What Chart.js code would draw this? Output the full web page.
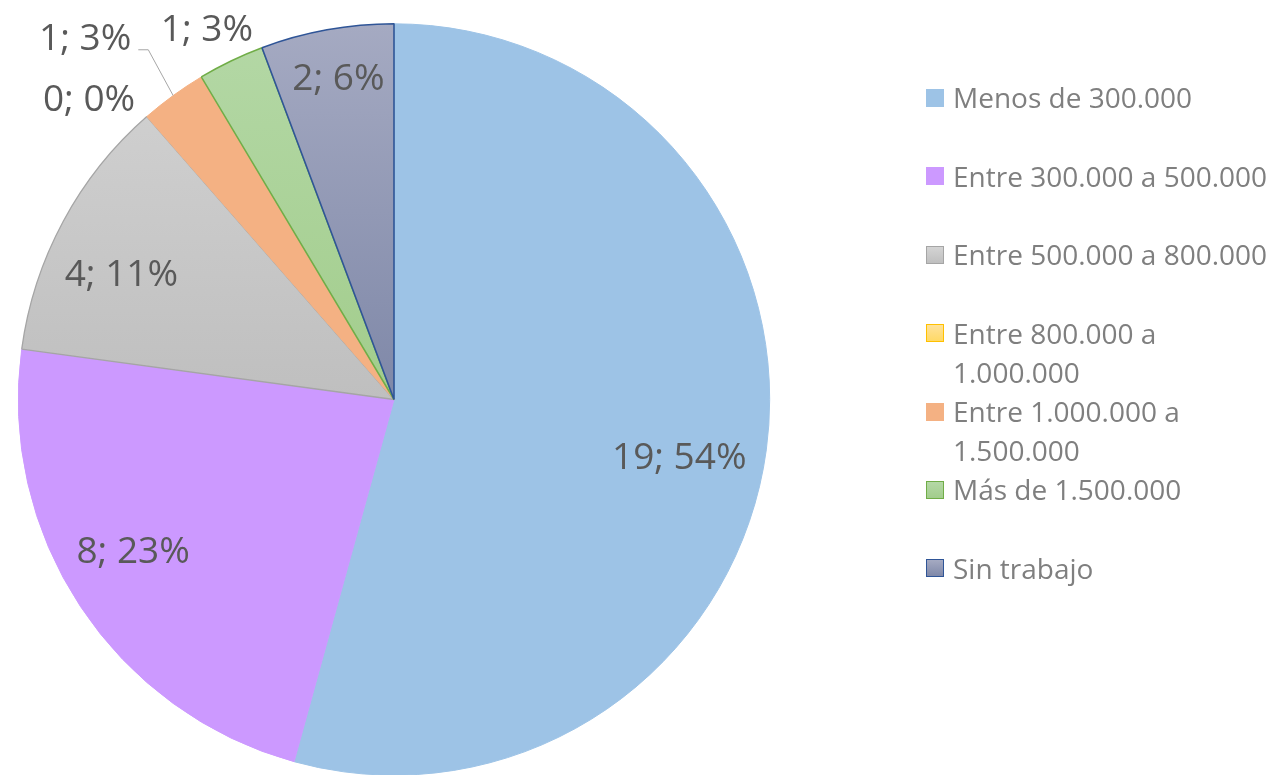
<!DOCTYPE html>
<html>
<head>
<meta charset="utf-8">
<script src="https://cdn.jsdelivr.net/npm/chart.js@4.4.0/dist/chart.umd.min.js"></script>
<style>
  html, body { margin: 0; padding: 0; background: #fff; overflow: hidden; }
  #wrap { position: absolute; left: 0; top: 0; width: 1274px; height: 800px; }
  #legend { position: absolute; left: 926px; top: 78.4px; font-family: 'Open Sans', sans-serif; font-size: 28px; line-height: 39.2px; color: #7f7f7f; white-space: nowrap; }
  .item { position: relative; padding-left: 27px; }
  .item.gap { margin-bottom: 39.2px; }
  .sw { position: absolute; left: 0; top: 10.6px; width: 18px; height: 18px; box-sizing: border-box; border: 1.5px solid; }
</style>
</head>
<body>
<div id="wrap"><canvas id="pie"></canvas></div>
<div id="legend"></div>
<script>
// data
const labels = [
  'Menos de 300.000',
  'Entre 300.000 a 500.000',
  'Entre 500.000 a 800.000',
  ['Entre 800.000 a', '1.000.000'],
  ['Entre 1.000.000 a', '1.500.000'],
  'Más de 1.500.000',
  'Sin trabajo'
];
const counts = [19, 8, 4, 0, 1, 1, 2];

// styles: [top colour, colour at pie centre, border colour, border width]
const sliceStyle = [
  ['#9dc3e6', '#9dc3e6', '#9dc3e6', 1],
  ['#cc99ff', '#cc99ff', '#cc99ff', 1],
  ['#d4d4d4', '#bfbfbf', '#a5a5a5', 1.3],
  ['#ffe29a', '#ffd966', '#ffc000', 0],
  ['#f4b183', '#f4b183', '#f4b183', 1],
  ['#b4d8a6', '#a2cd8c', '#70ad47', 1.5],
  ['#a5aac2', '#7f88a8', '#2f5597', 1.6]
];
// label placement: fraction of radius, angle shift in degrees
const labelPlace = [
  { dist: 0.774, shift: 3.5 },
  { dist: 0.802, shift: 3.4 },
  { dist: 0.80, shift: -3.4 },
  { dist: 1.141, shift: -4.2 },
  { dist: 1.267, shift: -4.45, leader: true },
  { dist: 1.108, shift: -1.0 },
  { dist: 0.87, shift: 0.5 }
];

function sliceFill(ctx) {
  const i = ctx.dataIndex;
  const area = ctx.chart.chartArea;
  if (!area || i === undefined) return sliceStyle[i || 0][0];
  const g = ctx.chart.ctx.createLinearGradient(0, area.top, 0, area.top + area.height / 2);
  g.addColorStop(0, sliceStyle[i][0]);
  g.addColorStop(1, sliceStyle[i][1]);
  return g;
}

const total = counts.reduce((a, b) => a + b, 0);

const sliceLabels = {
  id: 'sliceLabels',
  afterDatasetsDraw(chart) {
    const c = chart.ctx;
    const meta = chart.getDatasetMeta(0);
    c.save();
    c.font = '37px "Open Sans", sans-serif';
    c.fillStyle = '#595959';
    c.textAlign = 'center';
    c.textBaseline = 'alphabetic';
    meta.data.forEach((arc, i) => {
      const p = arc.getProps(['x', 'y', 'startAngle', 'endAngle', 'outerRadius'], true);
      const pl = labelPlace[i];
      const mid = (p.startAngle + p.endAngle) / 2;
      const a = mid + pl.shift * Math.PI / 180;
      const r = p.outerRadius * pl.dist;
      const lx = p.x + Math.cos(a) * r;
      const ly = p.y + Math.sin(a) * r;
      const text = counts[i] + '; ' + Math.round(counts[i] / total * 100) + '%';
      c.fillText(text, lx, ly + 13);
      if (pl.leader) {
        const w = c.measureText(text).width;
        const sx = lx + w / 2 + 7, sy = ly + 12.5;
        c.save();
        c.strokeStyle = '#a6a6a6';
        c.lineWidth = 1;
        c.beginPath();
        c.moveTo(sx, sy);
        c.lineTo(sx + 10, sy);
        c.lineTo(p.x + Math.cos(mid) * p.outerRadius, p.y + Math.sin(mid) * p.outerRadius);
        c.stroke();
        c.restore();
      }
    });
    c.restore();
  }
};

new Chart(document.getElementById('pie'), {
  type: 'pie',
  data: {
    labels,
    datasets: [{
      data: counts,
      backgroundColor: sliceFill,
      borderColor: sliceStyle.map(s => s[2]),
      borderWidth: sliceStyle.map(s => s[3])
    }]
  },
  options: {
    responsive: true,
    maintainAspectRatio: false,
    animation: false,
    events: [],
    layout: { padding: { left: 17, top: 23, right: 503, bottom: 24 } },
    plugins: { legend: { display: false }, tooltip: { enabled: false } }
  },
  plugins: [sliceLabels]
});

// legend
const legend = document.getElementById('legend');
labels.forEach((lab, i) => {
  const item = document.createElement('div');
  item.className = 'item' + (!Array.isArray(lab) && i < labels.length - 1 ? ' gap' : '');
  const sw = document.createElement('span');
  sw.className = 'sw';
  sw.style.background = 'linear-gradient(' + sliceStyle[i][0] + ',' + sliceStyle[i][1] + ')';
  sw.style.borderColor = sliceStyle[i][3] > 1 || i === 3 ? sliceStyle[i][2] : sliceStyle[i][0];
  item.appendChild(sw);
  const lines = Array.isArray(lab) ? lab : [lab];
  lines.forEach((t, k) => {
    if (k) item.appendChild(document.createElement('br'));
    item.appendChild(document.createTextNode(t));
  });
  legend.appendChild(item);
});
</script>
</body>
</html>
